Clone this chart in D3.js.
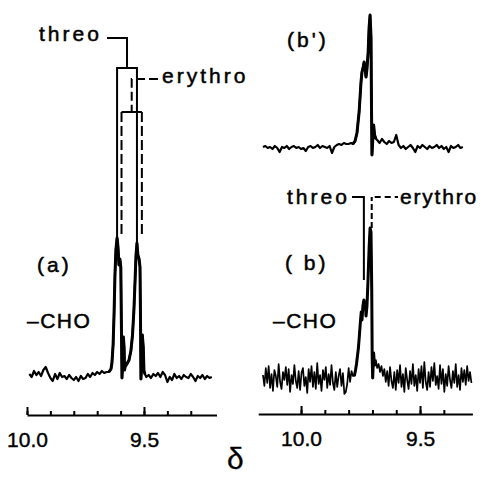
<!DOCTYPE html>
<html><head><meta charset="utf-8">
<script src="https://cdn.jsdelivr.net/npm/d3@7"></script>
<style>
html,body{margin:0;padding:0;background:#fff;}
svg{display:block;}
text{font-family:"Liberation Sans", Arial, sans-serif; fill:#000;}
</style></head><body>
<svg id="c" width="485" height="477"></svg>
<script>
// ---------- DATA ----------
const ticksA = [10.0, 9.9, 9.8, 9.7, 9.6, 9.5, 9.4, 9.3];
const ticksB = [10.0, 9.9, 9.8, 9.7, 9.6, 9.5, 9.4];
const majorTicks = [10.0, 9.5];

// spectrum (a): noise baselines sampled on a ppm grid, peak region as [ppm, intensity]
const aNoiseL = [1,-2,4,0,3,-1,5,8,2,-3,-6,1,-4,2,-2,-1,-4,0,-3,-5,-2,-6,-1,-4,-3,1,-2,2,0,3,1,4,2,3];
const aNoiseR = [-2,0,-3,1,-1,2,-2,3,0,-7,-2,-5,1,-3,-1,-4,0,-2,-3,1,-2,-6,-1,-3,0,-4,-1,-3,-2];
const aPeaks = [[9.650,3],[9.641,6],[9.637,12],[9.632,30],[9.628,60],[9.624,100],[9.620,125],[9.615,137],
  [9.611,128],[9.607,110],[9.603,116],[9.599,108],[9.597,60],[9.594,-3],[9.591,10],[9.588,38],[9.585,28],
  [9.583,5],[9.581,8],[9.573,11],[9.564,15],[9.556,24],[9.549,40],[9.543,65],[9.538,95],[9.534,120],
  [9.530,132],[9.526,120],[9.521,116],[9.517,108],[9.515,60],[9.513,-4],[9.510,10],[9.507,40],[9.503,28],
  [9.500,4],[9.496,1]];

// spectrum (b')
const bpNoiseL = [0,1,-1,0,-2,1,-1,-5,0,-1,1,-2,0,1,-1,0,-2,-1,-4,0,1,-1,0,2,-1,1,0,-1,1,-6,0,2,3,2,4,3,3,4];
const bpNoiseR = [7,4,8,5,3,6,4,5,12,2,-1,1,-2,0,2,-1,-5,1,-1,2,0,-2,1,-1,0,2,-1,1,-2,0,-5,1,-1,0,2,-1,0];
const bpPeaks = [[9.782,3],[9.773,6],[9.765,14],[9.756,35],[9.752,50],[9.748,65],[9.744,75],[9.739,80],
  [9.735,85],[9.731,78],[9.727,70],[9.723,78],[9.718,95],[9.714,120],[9.710,132],[9.706,110],[9.704,40],
  [9.702,-8],[9.698,10],[9.695,22],[9.691,12],[9.685,8]];

// spectrum (b)
const bNoiseL = [3,-8,10,-5,12,-10,4,-13,8,2,-9,14,-4,-11,6,-2,11,-7,9,-14,3,-6,13,-3,-10,7,-12,5,10,-8,
  1,-15,9,-4,12,-9,6,-11,15,-6,3,-13,8,-2,11,-10,4,-7,13,-5,-12,6,-9,2,9,-8,5,-16,-14,-6,10,-4,7,2];
const bNoiseR = [18,10,14,6,12,2,9,-4,7,-8,11,-3,-10,6,-12,8,-5,13,-9,4,-14,10,-2,-11,7,-6,14,-8,3,-13,
  9,-5,12,-10,16,-4,-12,6,-9,11,-3,15,-7,2,-11,13,-6,9,-14,4,-8,12,-2,-10,7,-5,14,-9,3,-12,10,-4,8,-7,12,-3,6,-5];
const bPeaks = [[9.776,2],[9.771,8],[9.767,14],[9.763,22],[9.759,30],[9.755,42],[9.751,55],[9.747,66],
  [9.744,58],[9.740,72],[9.736,78],[9.733,70],[9.730,76],[9.727,62],[9.723,72],[9.719,95],[9.714,130],
  [9.710,150],[9.706,146],[9.703,90],[9.701,20],[9.699,0],[9.695,25],[9.691,12]];

// assignment marks (ppm, intensity where the mark ends)
const threoA = [[9.615,137],[9.530,132]];
const erythroA = [[9.596,141],[9.509,141]];
const threoB = [9.736, 98];
const erythroB = [9.703, 150];

// ---------- HELPERS ----------
function grid(start, step, values){ return values.map((v,i)=>[+(start - i*step).toFixed(4), v]); }

const svg = d3.select("#c");
const FS = 21;

const xA = d3.scaleLinear().domain([10.0, 9.19]).range([27, 216.5]);
const xB = d3.scaleLinear().domain([10.18, 9.28]).range([258.2, 472.4]);
const yA = d3.scaleLinear().domain([0,137]).range([375,238]);
const yBp = d3.scaleLinear().domain([0,132]).range([147,15]);
const yB = d3.scaleLinear().domain([0,150]).range([378,228]);

const specA = [...grid(9.99,0.01,aNoiseL), ...aPeaks, ...grid(9.49,0.01,aNoiseR)];
const specBp = [...grid(10.16,0.01,bpNoiseL), ...bpPeaks, ...grid(9.68,0.01,bpNoiseR)];
const specB = [...grid(10.16,0.006,bNoiseL), ...bPeaks, ...grid(9.686,0.006,bNoiseR)];

function drawSpec(data, x, y, w){
  svg.append("path").datum(data)
    .attr("d", d3.line().x(d=>x(d[0])).y(d=>y(d[1])))
    .attr("fill","none").attr("stroke","#000").attr("stroke-width",w)
    .attr("stroke-linejoin","round");
}
drawSpec(specA, xA, yA, 2.2);
drawSpec(aPeaks, xA, yA, 3);
drawSpec(specBp, xB, yBp, 2.2);
drawSpec(bpPeaks, xB, yBp, 3);
drawSpec(specB, xB, yB, 1.7);
drawSpec(bPeaks, xB, yB, 3);

function drawAxis(x, yPos, ticks){
  const g = svg.append("g").attr("transform",`translate(0,${yPos})`);
  g.call(d3.axisTop(x).tickValues(ticks).tickSize(4).tickSizeOuter(0).tickFormat(""));
  const g2 = svg.append("g").attr("transform",`translate(0,${yPos})`);
  g2.call(d3.axisTop(x).tickValues(majorTicks).tickSize(8).tickSizeOuter(0).tickFormat(""));
  g2.select(".domain").remove();
  [g,g2].forEach(s=>{ s.selectAll("path,line").attr("stroke","#000").attr("stroke-width",2); });
  const g3 = svg.append("g").attr("transform",`translate(0,${yPos})`);
  g3.call(d3.axisBottom(x).tickValues(majorTicks).tickSize(0).tickPadding(17).tickFormat(d3.format(".1f")));
  g3.select(".domain").remove();
  g3.selectAll("text").attr("font-size",FS).attr("font-family","Liberation Sans, Arial, sans-serif")
    .attr("fill","#000").attr("stroke","#000").attr("stroke-width",0.4);
}
drawAxis(xA, 415, ticksA);
drawAxis(xB, 414, ticksB);

function label(txt, x, y, opts={}){
  svg.append("text").attr("x",x).attr("y",y).text(txt)
    .attr("font-size", opts.size||FS)
    .attr("letter-spacing", opts.ls!==undefined?opts.ls:3)
    .attr("font-family", opts.family||"Liberation Sans, Arial, sans-serif")
    .attr("stroke","#000").attr("stroke-width", opts.sw!==undefined?opts.sw:0.5);
}

const lineAttr = (p, dash, w)=> p.attr("fill","none").attr("stroke","#000").attr("stroke-width",w||2)
  .attr("stroke-dasharray", dash||null);

// --- (a) assignments ---
{
  const x1 = xA(threoA[0][0]), x2 = xA(threoA[1][0]), xc=(x1+x2)/2;
  lineAttr(svg.append("path").attr("d",`M107,38H${xc}V68`));
  lineAttr(svg.append("path").attr("d",`M${x1},${yA(threoA[0][1])}V68H${x2}V${yA(threoA[1][1])}`));
  const e1 = xA(erythroA[0][0]), e2 = xA(erythroA[1][0]), ec=(e1+e2)/2;
  lineAttr(svg.append("path").attr("d",`M158,79H${ec}V112`), "9,4");
  lineAttr(svg.append("path").attr("d",`M${e1},112H${e2}`));
  lineAttr(svg.append("path").attr("d",`M${e1},112V${yA(erythroA[0][1])}`), "10,4");
  lineAttr(svg.append("path").attr("d",`M${e2},112V${yA(erythroA[1][1])}`), "10,4");
}
// --- (b) assignments ---
{
  const xt = xB(threoB[0]);
  lineAttr(svg.append("path").attr("d",`M352,197H${xt}V${yB(threoB[1])}`));
  const xe = xB(erythroB[0]);
  lineAttr(svg.append("path").attr("d",`M${xe},${yB(erythroB[1])}V197`), "6,3");
  lineAttr(svg.append("path").attr("d",`M${xe+3},197H398`), "6,4");
}

label("threo", 39, 41);
label("erythro", 162, 83);
label("(a)", 37, 272);
label("\u2013CHO", 27, 328, {ls:1.5});
label("(b')", 287, 47);
label("threo", 287, 204);
label("erythro", 400, 204, {ls:1.8});
label("( b)", 285, 270);
label("\u2013CHO", 273, 328, {ls:1.5});
label("\u03B4", 227, 469, {size:30, ls:0, family:"Liberation Serif, serif", sw:0.3});
</script>
</body></html>
